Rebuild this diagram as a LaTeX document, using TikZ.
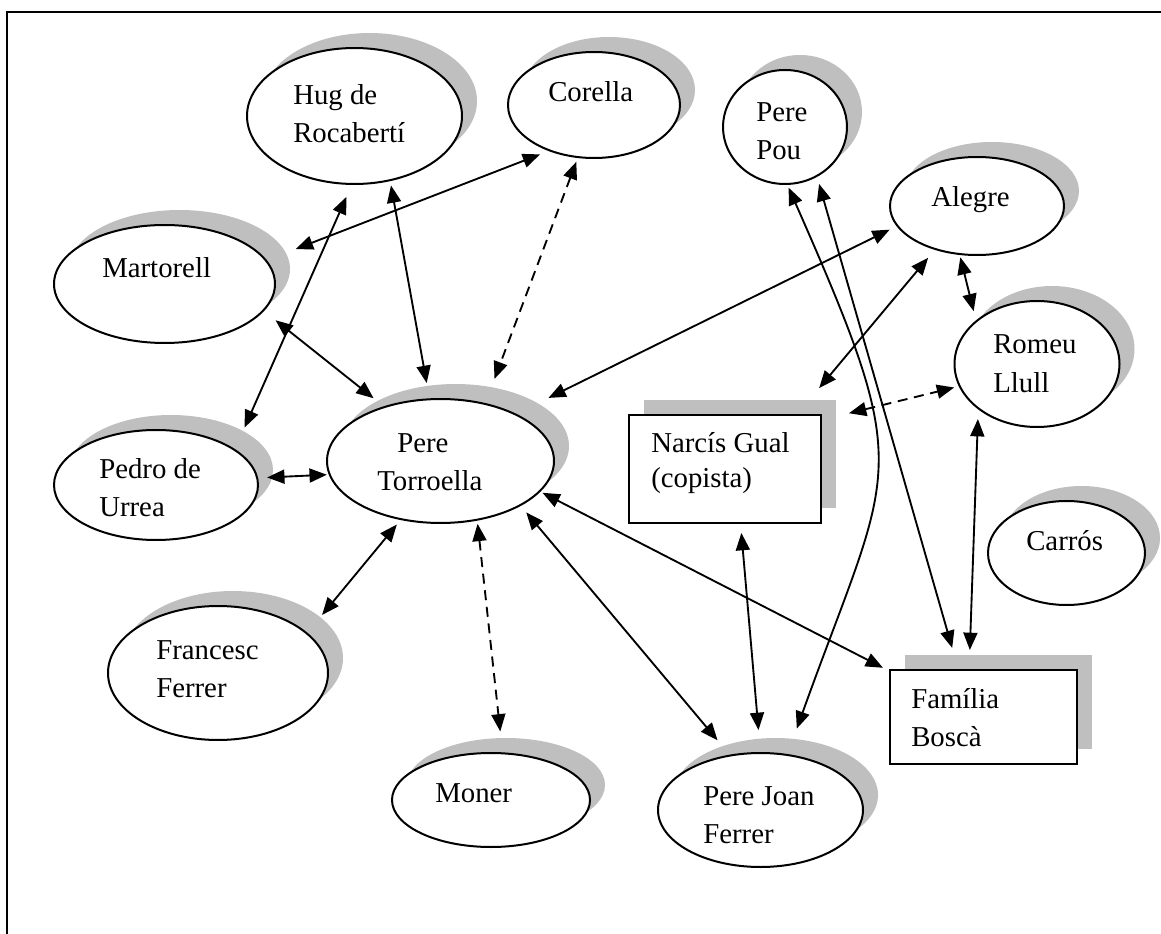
\documentclass[tikz,border=0pt]{standalone}
\usepackage{fontspec}
\setmainfont{Liberation Serif}
\usetikzlibrary{arrows.meta,shapes.geometric,shadows}
\newcommand\twol[2]{\vtop{\hbox{#1}\hbox{#2}}}
\begin{document}
\begin{tikzpicture}[x=0.75pt,y=-0.75pt,
  shad/.style={general shadow={fill=black!25, shadow xshift=11.25pt, shadow yshift=11.25pt}},
  ell/.style={ellipse, draw, fill=white, line width=1.5pt, inner sep=0pt, outer sep=0pt, shad},
  box/.style={rectangle, draw, fill=white, line width=1.5pt, inner sep=0pt, outer sep=0pt, shad},
  lbl/.style={anchor=base west, inner sep=0pt, font=\fontsize{21.6pt}{28.5pt}\selectfont},
  bi/.style={{Triangle[length=13pt,width=10.5pt]}-{Triangle[length=13pt,width=10.5pt]}, line width=1.4pt},
  dsh/.style={dash pattern=on 7.5pt off 5pt}
]
\useasboundingbox (0,0) rectangle (1161,934);
\draw[line width=1.5pt] (7,934) -- (7,12) -- (1161,12);

% nodes
\node[ell, minimum width=161.25pt, minimum height=102pt] (hug) at (354.5,116) {};
\node[ell, minimum width=129pt, minimum height=79.5pt] (corella) at (594,105) {};
\node[ell, minimum width=93pt, minimum height=85.5pt] (pou) at (785,127) {};
\node[ell, minimum width=130.5pt, minimum height=73.5pt] (alegre) at (977,206) {};
\node[ell, minimum width=123.75pt, minimum height=94.5pt] (romeu) at (1037,364) {};
\node[ell, minimum width=165.75pt, minimum height=88.5pt] (mart) at (164.5,284) {};
\node[ell, minimum width=153pt, minimum height=82.5pt] (pedro) at (156,485) {};
\node[ell, minimum width=170.25pt, minimum height=93pt] (torr) at (440.5,461) {};
\node[ell, minimum width=117.75pt, minimum height=78pt] (carros) at (1066.5,553) {};
\node[ell, minimum width=165pt, minimum height=100.5pt] (francesc) at (218,673) {};
\node[ell, minimum width=148.5pt, minimum height=70.5pt] (moner) at (491,800) {};
\node[ell, minimum width=153.75pt, minimum height=85.5pt] (pjf) at (760.5,810) {};
\node[box, minimum width=144pt, minimum height=81pt] (narcis) at (725,469) {};
\node[box, minimum width=140.25pt, minimum height=70.5pt] (familia) at (983.5,717) {};

% labels
\node[lbl] (hugt) at (293,105) {\twol{Hug de}{Rocabertí}};
\node[lbl] (corellat) at (548,102) {Corella};
\node[lbl] (pout) at (756,122) {\twol{Pere}{Pou}};
\node[lbl] (alegret) at (931,207) {Alegre};
\node[lbl] (romeut) at (993,354) {\twol{Romeu}{Llull}};
\node[lbl] (martt) at (102,278) {Martorell};
\node[lbl] (pedrot) at (99,478) {\twol{Pedro de}{Urrea}};
\node[lbl] (torrt) at (377,452) {\twol{\kern15pt Pere}{Torroella}};
\node[lbl] (carrost) at (1026,550) {Carrós};
\node[lbl] (francesct) at (156,659) {\twol{Francesc}{Ferrer}};
\node[lbl] (monert) at (435,802) {Moner};
\node[lbl] (pjft) at (703,805) {\twol{Pere Joan}{Ferrer}};
\node[lbl, font=\fontsize{21.6pt}{26.25pt}\selectfont] (narcist) at (651,452) {\twol{Narcís Gual}{(copista)}};
\node[lbl] (familiat) at (911,708) {\twol{Família}{Boscà}};

% connectors
\draw[bi, shorten <=24pt, shorten >=8pt] (mart.13) -- (corella.226);
\draw[bi, shorten <=10.5pt, shorten >=18.4pt] (hug.268) -- (pedro.24);
\draw[bi, shorten <=4pt, shorten >=12.4pt] (hug.299) -- (torr.100);
\draw[bi, dsh, shorten <=3.8pt, shorten >=20.1pt] (corella.253) -- (torr.52);
\draw[bi, shorten <=11.8pt, shorten >=10.6pt] (mart.-15) -- (torr.136);
\draw[bi, shorten <=7.5pt, shorten >=2.2pt] (pedro.4) -- (torr.187);
\draw[bi, shorten <=27.8pt, shorten >=6.5pt] (torr.32) -- (alegre.194);
\draw[bi, shorten <=5.2pt, shorten >=18pt] (torr.236) -- (francesc.24);
\draw[bi, dsh, shorten <=3.1pt, shorten >=16.5pt] (torr.302) -- (moner.76);
\draw[bi, shorten <=7.1pt, shorten >=14.9pt] (torr.331) -- (pjf.119);
\draw[bi, shorten <=2.5pt, shorten >=5.9pt] (torr.343) -- (familia.154);
\draw[bi, shorten <=26.3pt, shorten >=8.5pt] (narcis.37) -- (alegre.226);
\draw[bi, shorten <=2.5pt, shorten >=7.9pt] (alegre.250) -- (romeu.145);
\draw[bi, dsh, shorten <=21.6pt, shorten >=4.3pt] (narcis.27) -- (romeu.196);
\draw[bi, shorten <=8.1pt, shorten >=15pt] (romeu.217) -- (familia.107);
\draw[bi, shorten <=7.5pt, shorten >=17.3pt] (narcis.286) -- (pjf.90);
\draw[bi, shorten <=3pt, shorten >=21pt] (pou.272) .. controls +(130,295) and +(106,-295) .. (pjf.64);
\draw[bi, shorten <=6.2pt, shorten >=17.2pt] (pou.303) -- (familia.118);
\end{tikzpicture}
\end{document}
